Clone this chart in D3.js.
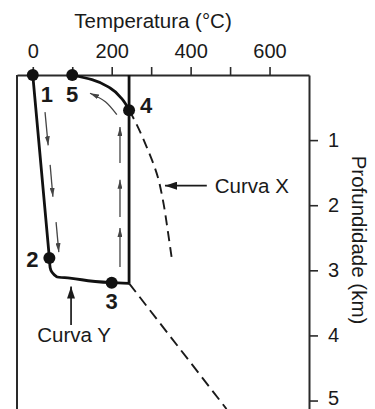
<!DOCTYPE html>
<html>
<head>
<meta charset="utf-8">
<script src="https://cdn.jsdelivr.net/npm/d3@7"></script>
<style>
  body { margin: 0; background: #fff; }
  svg { display: block; }
  text { font-family: "Liberation Sans", Arial, Helvetica, sans-serif; fill: #1a1a1a; }
</style>
</head>
<body>
<svg id="chart" width="375" height="409"></svg>
<script>

// axis ticks
var tempTicks = [0, 100, 200, 300, 400, 500, 600];
var tempLabels = [0, 200, 400, 600];
var depthTicks = [1, 2, 3, 4, 5];

// numbered points (temperature °C, depth km)
var pointIds = ["1", "2", "3", "4", "5"];
var pointTemp = [0, 42, 200, 244, 100];
var pointDepth = [0, 2.81, 3.19, 0.54, 0];

// curva Y : 1 -> 2 -> 3 -> corner
var curveYTemp = [0, 42, 44, 61, 94, 200, 244];
var curveYDepth = [0, 2.81, 2.96, 3.10, 3.12, 3.19, 3.2];

// vertical rise from the corner to the surface
var riseTemp = [244, 244];
var riseDepth = [3.2, 0];

// arc 5 -> 4
var arcTemp = [100, 150, 196, 225, 244];
var arcDepth = [0, 0.07, 0.2, 0.36, 0.54];

// curva X (dashed) below point 4
var curveXTemp = [244, 254, 289, 317, 330, 343, 353];
var curveXDepth = [0.54, 0.65, 1.11, 1.57, 1.93, 2.43, 2.85];

// dashed line below the corner
var lowTemp = [244, 491];
var lowDepth = [3.2, 5.13];

// small flow arrows
var downArrowTemp = [[31, 39], [44, 51], [59, 66]];
var downArrowDepth = [[0.57, 1.08], [1.38, 1.87], [2.26, 2.72]];
var upArrowTemp = [[221, 221], [221, 221], [221, 221]];
var upArrowDepth = [[1.35, 0.80], [2.18, 1.61], [2.95, 2.35]];
var bendArrowTemp = [213, 184, 145];
var bendArrowDepth = [0.61, 0.41, 0.28];

// label arrows
var labelXTemp = [441, 335];
var labelXDepth = [1.7, 1.7];
var labelYTemp = [97, 97];
var labelYDepth = [3.84, 3.25];


var svg = d3.select("#chart");

// define scales
var x = d3.scaleLinear().domain([-40, 700]).range([17, 309]);
var y = d3.scaleLinear().domain([0, 5.13]).range([75, 409]);

function zip(ts, ds) {
  return ts.map(function(t, i) { return [t, ds[i]]; });
}

var line = d3.line()
  .x(function(d) { return x(d[0]); })
  .y(function(d) { return y(d[1]); });

var smooth = d3.line()
  .x(function(d) { return x(d[0]); })
  .y(function(d) { return y(d[1]); })
  .curve(d3.curveMonotoneY);

// arrow heads
var defs = svg.append("defs");
function head(id, len, wid, color) {
  defs.append("marker")
    .attr("id", id)
    .attr("markerUnits", "userSpaceOnUse")
    .attr("viewBox", "0 0 " + len + " " + wid)
    .attr("refX", len).attr("refY", wid / 2)
    .attr("markerWidth", len).attr("markerHeight", wid)
    .attr("orient", "auto")
    .append("path")
    .attr("d", "M0,0L" + len + "," + (wid / 2) + "L0," + wid + "Z")
    .attr("fill", color);
}
head("big", 12, 8, "#1a1a1a");
head("small", 9, 5, "#444");

// frame: left line
svg.append("line")
  .attr("x1", x(-40)).attr("x2", x(-40))
  .attr("y1", y(0)).attr("y2", y(5.13))
  .attr("stroke", "#2a2a2a").attr("stroke-width", 2);

// top axis
var xAxis = d3.axisTop(x)
  .tickValues(tempTicks)
  .tickSize(8)
  .tickSizeOuter(0)
  .tickPadding(9)
  .tickFormat(function(d) { return tempLabels.indexOf(d) >= 0 ? d : ""; });

var gx = svg.append("g")
  .attr("transform", "translate(0," + y(0) + ")")
  .call(xAxis);

// right axis
var yAxis = d3.axisRight(y)
  .tickValues(depthTicks)
  .tickSize(9)
  .tickSizeOuter(0)
  .tickPadding(10)
  .tickFormat(d3.format("d"));

var gy = svg.append("g")
  .attr("transform", "translate(" + x(700) + ",0)")
  .call(yAxis);

[gx, gy].forEach(function(g) {
  g.select(".domain").attr("stroke", "#2a2a2a").attr("stroke-width", 2);
  g.selectAll(".tick line").attr("stroke", "#2a2a2a").attr("stroke-width", 1.6);
  g.selectAll(".tick text")
    .attr("font-size", 20)
    .attr("font-family", "\"Liberation Sans\", Arial, sans-serif")
    .attr("fill", "#1a1a1a");
});
// keep the last depth label inside the picture
gy.selectAll(".tick text").filter(function(d) { return d === 5; }).attr("dy", "0.2em");

// axis titles
svg.append("text")
  .attr("x", 153).attr("y", 28)
  .attr("text-anchor", "middle")
  .attr("font-size", 20.5)
  .text("Temperatura (°C)");

svg.append("text")
  .attr("transform", "translate(352,240) rotate(90)")
  .attr("text-anchor", "middle")
  .attr("font-size", 20.5)
  .text("Profundidade (km)");

// dashed curves
svg.append("path")
  .attr("d", smooth(zip(curveXTemp, curveXDepth)))
  .attr("fill", "none").attr("stroke", "#1a1a1a")
  .attr("stroke-width", 1.9).attr("stroke-dasharray", "10,6");

svg.append("path")
  .attr("d", line(zip(lowTemp, lowDepth)))
  .attr("fill", "none").attr("stroke", "#1a1a1a")
  .attr("stroke-width", 1.9).attr("stroke-dasharray", "11,6");

// solid curves
svg.append("path")
  .attr("d", smooth(zip(curveYTemp, curveYDepth)))
  .attr("fill", "none").attr("stroke", "#111")
  .attr("stroke-width", 2.8).attr("stroke-linejoin", "round");

svg.append("path")
  .attr("d", line(zip(riseTemp, riseDepth)))
  .attr("fill", "none").attr("stroke", "#111")
  .attr("stroke-width", 2.8);

svg.append("path")
  .attr("d", smooth(zip(arcTemp, arcDepth)))
  .attr("fill", "none").attr("stroke", "#111")
  .attr("stroke-width", 2.8);

// small flow arrows
var flow = downArrowTemp.map(function(t, i) { return zip(t, downArrowDepth[i]); })
  .concat(upArrowTemp.map(function(t, i) { return zip(t, upArrowDepth[i]); }));

svg.selectAll(".flow")
  .data(flow)
  .enter().append("path")
  .attr("class", "flow")
  .attr("d", line)
  .attr("fill", "none").attr("stroke", "#444")
  .attr("stroke-width", 1.3)
  .attr("marker-end", "url(#small)");

svg.append("path")
  .attr("d", d3.line()
    .x(function(d) { return x(d[0]); })
    .y(function(d) { return y(d[1]); })
    .curve(d3.curveCardinal)(zip(bendArrowTemp, bendArrowDepth)))
  .attr("fill", "none").attr("stroke", "#444")
  .attr("stroke-width", 1.3)
  .attr("marker-end", "url(#small)");

// label arrows
[zip(labelXTemp, labelXDepth), zip(labelYTemp, labelYDepth)].forEach(function(p) {
  svg.append("path")
    .attr("d", line(p))
    .attr("fill", "none").attr("stroke", "#1a1a1a")
    .attr("stroke-width", 1.7)
    .attr("marker-end", "url(#big)");
});

svg.append("text")
  .attr("x", x(labelXTemp[0]) + 8).attr("y", y(labelXDepth[0]) + 7)
  .attr("font-size", 20.5)
  .text("Curva X");

svg.append("text")
  .attr("x", x(labelYTemp[0]) + 3).attr("y", y(labelYDepth[0]) + 17)
  .attr("text-anchor", "middle")
  .attr("font-size", 20.5)
  .text("Curva Y");

// numbered points
var labelOffset = { "1": [14, 27], "2": [-17, 9], "3": [0, 26], "4": [17, 3], "5": [0, 27] };

var pts = svg.selectAll(".pt")
  .data(pointIds)
  .enter().append("g")
  .attr("class", "pt")
  .attr("transform", function(d, i) {
    return "translate(" + x(pointTemp[i]) + "," + y(pointDepth[i]) + ")";
  });

pts.append("circle")
  .attr("r", 6)
  .attr("fill", "#111");

pts.append("text")
  .attr("x", function(d) { return labelOffset[d][0]; })
  .attr("y", function(d) { return labelOffset[d][1]; })
  .attr("text-anchor", "middle")
  .attr("font-size", 22)
  .attr("font-weight", "bold")
  .text(function(d) { return d; });

</script>
</body>
</html>
